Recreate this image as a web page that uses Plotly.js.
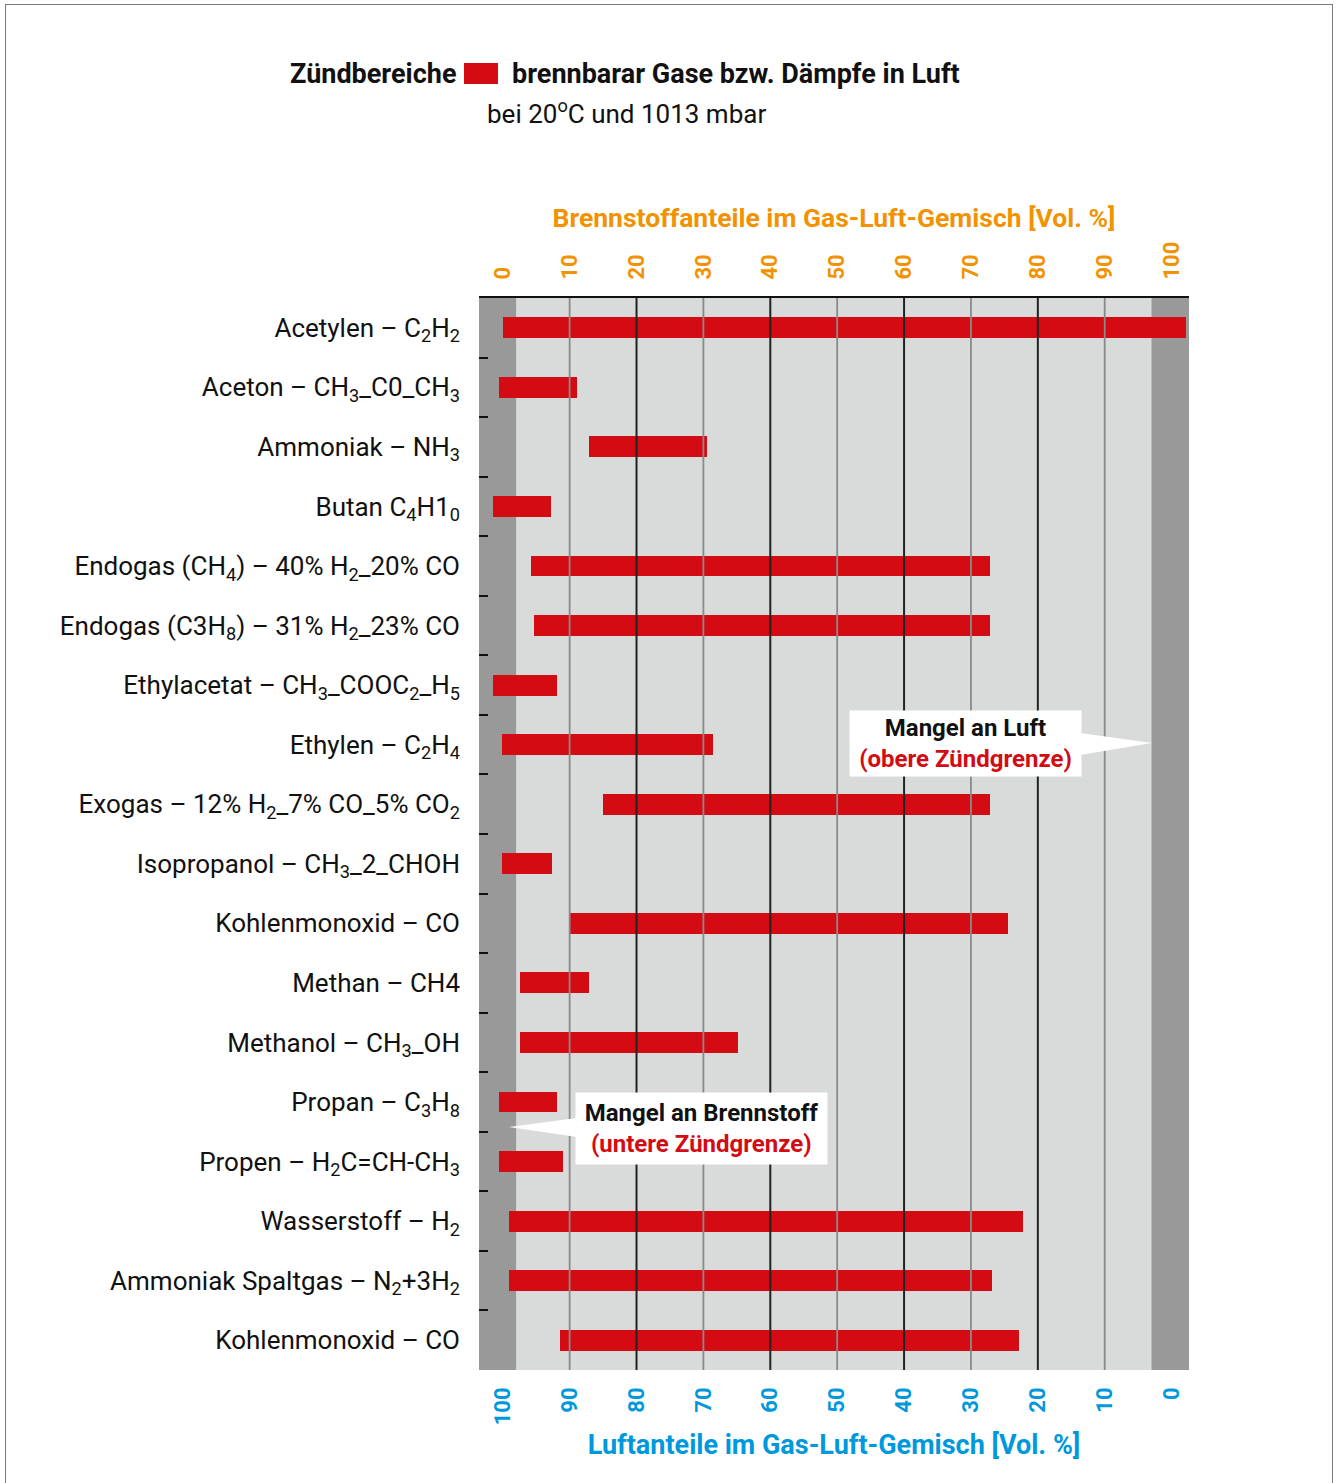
<!DOCTYPE html>
<html>
<head>
<meta charset="utf-8">
<script src="https://cdn.plot.ly/plotly-3.0.1.min.js"></script>
<style>
  html, body { margin: 0; padding: 0; background: #fff; }
  #wrap { position: relative; width: 1337px; height: 1483px; overflow: hidden; }
  #frame { position: absolute; left: 5px; top: 4px; width: 1328px; height: 1500px; border: 1.5px solid #7a7a7a; box-sizing: border-box; pointer-events: none; }
  #chart { position: absolute; left: 0; top: 0; width: 1337px; height: 1483px; }
</style>
</head>
<body>
<div id="wrap">
  <div id="chart"></div>
  <div id="frame"></div>
</div>
<script>
// ---- data ----
const gases = [
  "Acetylen – C<sub>2</sub>H<sub>2</sub>",
  "Aceton – CH<sub>3</sub>_C0_CH<sub>3</sub>",
  "Ammoniak – NH<sub>3</sub>",
  "Butan C<sub>4</sub>H1<sub>0</sub>",
  "Endogas (CH<sub>4</sub>) – 40% H<sub>2</sub>_20% CO",
  "Endogas (C3H<sub>8</sub>) – 31% H<sub>2</sub>_23% CO",
  "Ethylacetat – CH<sub>3</sub>_COOC<sub>2</sub>_H<sub>5</sub>",
  "Ethylen – C<sub>2</sub>H<sub>4</sub>",
  "Exogas – 12% H<sub>2</sub>_7% CO_5% CO<sub>2</sub>",
  "Isopropanol – CH<sub>3</sub>_2_CHOH",
  "Kohlenmonoxid – CO",
  "Methan – CH4",
  "Methanol – CH<sub>3</sub>_OH",
  "Propan – C<sub>3</sub>H<sub>8</sub>",
  "Propen – H<sub>2</sub>C=CH-CH<sub>3</sub>",
  "Wasserstoff – H<sub>2</sub>",
  "Ammoniak Spaltgas – N<sub>2</sub>+3H<sub>2</sub>",
  "Kohlenmonoxid – CO"
];
const lowerLimit = [0.0, -0.55, 12.9, -1.45, 4.2, 4.7, -1.45, -0.1, 15.0, -0.1, 10.1, 2.6, 2.6, -0.55, -0.55, 0.9, 0.9, 8.6];
const upperLimit = [102.2, 11.1, 30.5, 7.2, 72.9, 72.9, 8.1, 31.4, 72.9, 7.4, 75.6, 12.9, 35.1, 8.1, 9.0, 77.8, 73.2, 77.2];

const fuelTicks = [0, 10, 20, 30, 40, 50, 60, 70, 80, 90, 100];
const fuelTickText = ["0", "10", "20", "30", "40", "50", "60", "70", "80", "90", "100"];
const airTickText = ["100", "90", "80", "70", "60", "50", "40", "30", "20", "10", "0"];
const grayGrid = [10, 30, 50, 70, 90];
const blackGrid = [20, 40, 60, 80];
const lowZone = [-3.55, 2];     // Mangel an Luft / Brennstoff zones
const highZone = [97, 102.6];
const xRange = [-3.55, 102.6];

// ---- layout helpers (pixel -> paper) ----
const W = 1337, H = 1483;
const L = 479, R = 1189, T = 298, B = 1370;
const px = X => (X - L) / (R - L);
const py = Y => (B - Y) / (B - T);

const RED = "#d40b12", ORANGE = "#f39200", BLUE = "#0098dc";
const FONT = "Roboto, 'Noto Sans', sans-serif";

const idx = gases.map((_, i) => i);
const bounds = gases.slice(1).map((_, i) => i + 0.5);

const traces = [
  {
    type: "bar",
    orientation: "h",
    y: idx,
    base: lowerLimit,
    x: upperLimit.map((u, i) => u - lowerLimit[i]),
    width: 0.35,
    marker: { color: RED, line: { width: 0 } },
    hoverinfo: "skip",
    showlegend: false,
    xaxis: "x",
    yaxis: "y"
  },
  {
    type: "scatter", mode: "markers", x: [], y: [],
    xaxis: "x2", yaxis: "y", showlegend: false, hoverinfo: "skip"
  }
];

const shapes = [];
// zones
[lowZone, highZone].forEach(z => shapes.push({
  type: "rect", xref: "x", yref: "paper", x0: z[0], x1: z[1], y0: 0, y1: 1,
  fillcolor: "#999999", line: { width: 0 }, layer: "below"
}));
// grid lines above bars
grayGrid.forEach(v => shapes.push({
  type: "line", xref: "x", yref: "paper", x0: v, x1: v, y0: 0, y1: 1,
  line: { color: "#8a8a8a", width: 1.8 }, layer: "above"
}));
blackGrid.forEach(v => shapes.push({
  type: "line", xref: "x", yref: "paper", x0: v, x1: v, y0: 0, y1: 1,
  line: { color: "#222222", width: 2 }, layer: "above"
}));
// callout wedges
shapes.push({
  type: "path", xref: "paper", yref: "paper",
  path: `M ${px(1080)},${py(733)} L ${px(1152)},${py(743)} L ${px(1080)},${py(755)} Z`,
  fillcolor: "#ffffff", line: { width: 0 }, layer: "above"
});
shapes.push({
  type: "path", xref: "paper", yref: "paper",
  path: `M ${px(577)},${py(1118)} L ${px(509)},${py(1127)} L ${px(577)},${py(1137)} Z`,
  fillcolor: "#ffffff", line: { width: 0 }, layer: "above"
});
// title legend swatch
shapes.push({
  type: "rect", xref: "paper", yref: "paper",
  x0: px(464), x1: px(498), y0: py(84), y1: py(63),
  fillcolor: RED, line: { width: 0 }
});

const annotations = [
  { xref: "paper", yref: "paper", x: px(459), y: py(74), xanchor: "right", yanchor: "middle",
    text: "<b>Zündbereiche</b>", showarrow: false, font: { family: FONT, size: 27, color: "#111" } },
  { xref: "paper", yref: "paper", x: px(510), y: py(74), xanchor: "left", yanchor: "middle",
    text: "<b>brennbarar Gase bzw. Dämpfe in Luft</b>", showarrow: false, font: { family: FONT, size: 27, color: "#111" } },
  { xref: "paper", yref: "paper", x: px(626), y: py(112), xanchor: "center", yanchor: "middle",
    text: "bei 20<sup>o</sup>C und 1013 mbar", showarrow: false, font: { family: FONT, size: 26, color: "#111" } },
  { xref: "paper", yref: "paper", x: px(965.5), y: py(743.5), xanchor: "center", yanchor: "middle",
    text: "<b>Mangel an Luft</b><br><b><span style='color:" + RED + "'>(obere Zündgrenze)</span></b>",
    showarrow: false, bgcolor: "#ffffff", borderpad: 0, width: 231, height: 65,
    font: { family: FONT, size: 24, color: "#111" } },
  { xref: "paper", yref: "paper", x: px(701.5), y: py(1128.5), xanchor: "center", yanchor: "middle",
    text: "<b>Mangel an Brennstoff</b><br><b><span style='color:" + RED + "'>(untere Zündgrenze)</span></b>",
    showarrow: false, bgcolor: "#ffffff", borderpad: 0, width: 251, height: 71,
    font: { family: FONT, size: 24, color: "#111" } }
];

const layout = {
  width: W, height: H,
  margin: { l: L, r: W - R, t: T, b: H - B, pad: 0 },
  paper_bgcolor: "rgba(0,0,0,0)",
  plot_bgcolor: "#d9dada",
  font: { family: FONT, color: "#111" },
  showlegend: false,
  bargap: 0,
  xaxis: {
    side: "top", range: xRange, tickmode: "array", tickvals: fuelTicks, ticktext: fuelTickText,
    tickangle: -90, ticks: "", showgrid: false, zeroline: false,
    showline: true, linecolor: "#111", linewidth: 2,
    tickfont: { family: FONT, size: 22, color: ORANGE, weight: "bold" },
    ticklabelstandoff: 12,
    title: { text: "<b>Brennstoffanteile im Gas-Luft-Gemisch [Vol. %]</b>", standoff: 6,
             font: { family: FONT, size: 26.5, color: ORANGE } },
    fixedrange: true
  },
  xaxis2: {
    overlaying: "x", matches: "x", side: "bottom", anchor: "y",
    range: xRange, tickmode: "array", tickvals: fuelTicks, ticktext: airTickText,
    tickangle: -90, ticks: "", showgrid: false, zeroline: false, showline: false,
    tickfont: { family: FONT, size: 22, color: BLUE, weight: "bold" },
    ticklabelstandoff: 12,
    title: { text: "<b>Luftanteile im Gas-Luft-Gemisch [Vol. %]</b>", standoff: 10,
             font: { family: FONT, size: 27, color: BLUE } },
    fixedrange: true
  },
  yaxis: {
    range: [gases.length - 0.5, -0.5],
    tickmode: "array", tickvals: idx, ticktext: gases,
    ticks: "", showgrid: false, zeroline: false, showline: false,
    tickfont: { family: FONT, size: 26, color: "#111" },
    ticklabelstandoff: 18,
    minor: { tickmode: "array", tickvals: bounds, ticks: "inside", ticklen: 9, tickwidth: 2, tickcolor: "#111", showgrid: false },
    fixedrange: true
  },
  shapes: shapes,
  annotations: annotations
};

Plotly.newPlot("chart", traces, layout, { displayModeBar: false, staticPlot: true });
</script>
</body>
</html>
